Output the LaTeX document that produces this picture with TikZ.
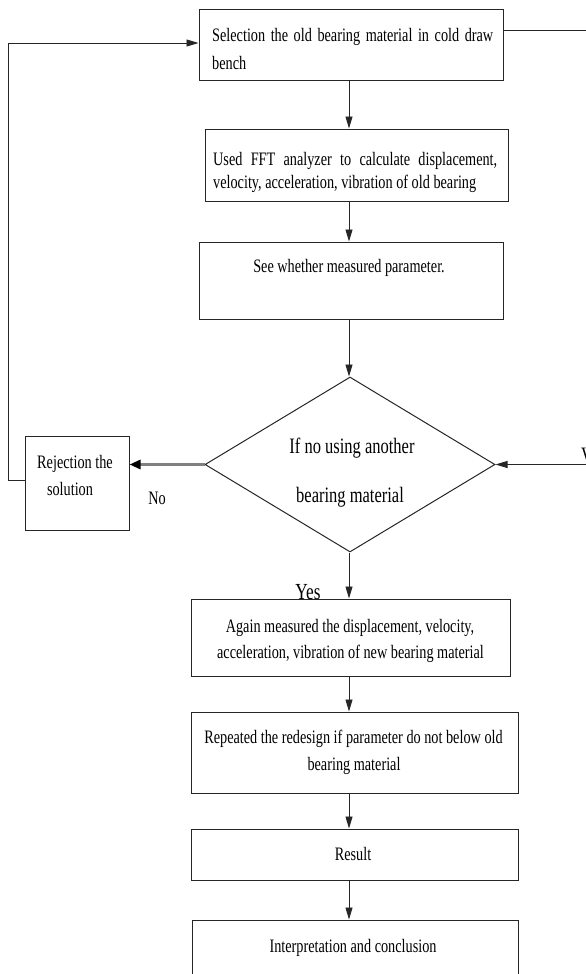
\documentclass[tikz,border=0pt]{standalone}
\usepackage{fontspec}
\setmainfont{Liberation Serif}[FakeStretch=0.75]
\usetikzlibrary{arrows.meta,shapes.geometric}
\newcommand\txtsz{\fontsize{19}{24}\selectfont}
\newcommand\bigtxtsz{\fontsize{22}{28}\selectfont}
\newcommand\yestxtsz{\fontsize{23}{28}\selectfont}
\begin{document}
\begin{tikzpicture}[x=1pt,y=-1pt,
  box/.style={draw=black!85, line width=1pt, rectangle, inner sep=0pt, anchor=center},
  lbl/.style={inner sep=0pt, anchor=base, font=\txtsz},
  lblw/.style={lbl, anchor=base west},
  arr/.style={draw=black!85, line width=0.9pt, -{Triangle[length=12pt,width=7pt]}},
  noarr/.style={draw=gray, line width=3pt, -{Triangle[length=11pt,width=9pt,color=black]}}]
\useasboundingbox (0,0) rectangle (586,974);
% boxes
\node[box, minimum width=304pt, minimum height=70pt] (b1) at (351,45) {};
\node[box, minimum width=303pt, minimum height=72pt] (b2) at (356.5,165) {};
\node[box, minimum width=304pt, minimum height=77pt] (b3) at (351,280.5) {};
\node[draw=black!85, line width=1pt, diamond, inner sep=0pt, minimum width=290pt, minimum height=175pt] (dm) at (350,464.5) {};
\node[box, minimum width=104pt, minimum height=94pt] (rej) at (77,483) {};
\node[box, minimum width=319pt, minimum height=77pt] (b4) at (350.5,637.5) {};
\node[box, minimum width=327pt, minimum height=81pt] (b5) at (354.5,752.5) {};
\node[box, minimum width=327pt, minimum height=51pt] (b6) at (354.5,854.5) {};
\node[box, minimum width=326pt, minimum height=70pt] (b7) at (355,955) {};
% helper coordinates
\coordinate (spine) at (349,0);
\coordinate (lx) at (8,0);
\coordinate (rx) at (600,0);
\coordinate (b1in) at ([yshift=2pt]b1.west);
\coordinate (rejout) at ([yshift=3pt]rej.west);
\coordinate (b1r) at ([yshift=14pt]b1.east);
% texts
\node[lblw] (t1a) at (212,42) {\makebox[281pt][s]{Selection the old bearing material in cold draw}};
\node[lblw] (t1b) at (212,70) {bench};
\node[lblw] (t2a) at (213,165) {\makebox[284pt][s]{Used FFT analyzer to calculate displacement,}};
\node[lblw] (t2b) at (213,188) {velocity, acceleration, vibration of old bearing};
\node[lbl] (t3) at (349,272) {See whether measured parameter.};
\node[lbl, font=\bigtxtsz] (td1) at (352,453) {If no using another};
\node[lbl, font=\bigtxtsz] (td2) at (350,502) {bearing material};
\node[lbl] (tr1) at (75,468) {Rejection the};
\node[lbl] (tr2) at (70,495) {solution};
\node[lbl] (tno) at (157,504) {No};
\node[lbl, font=\yestxtsz] (tyes) at (308,599) {Yes};
\node[lblw, font=\bigtxtsz] (tv) at (581,462) {V};
\node[lbl] (t4a) at (350,632) {Again measured the displacement, velocity,};
\node[lbl] (t4b) at (350.5,658) {acceleration, vibration of new bearing material};
\node[lbl] (t5a) at (353.5,743) {Repeated the redesign if parameter do not below old};
\node[lbl] (t5b) at (354,770) {bearing material};
\node[lbl] (t6) at (353,860) {Result};
\node[lbl] (t7) at (353,952) {Interpretation and conclusion};
% connectors
\draw[arr] (b1.south -| spine) -- (b2.north -| spine);
\draw[arr] (b2.south -| spine) -- (b3.north -| spine);
\draw[arr] (b3.south -| spine) -- (dm.north -| spine);
\draw[arr] (dm.south -| spine) -- (b4.north -| spine);
\draw[arr] (b4.south -| spine) -- (b5.north -| spine);
\draw[arr] (b5.south -| spine) -- (b6.north -| spine);
\draw[arr] (b6.south -| spine) -- (b7.north -| spine);
\draw[noarr] (dm.west) -- (rej.east |- dm.west);
\draw[arr] (rejout) -| (lx |- b1in) -- (b1in);
\draw[draw=black!85, line width=1pt] (b1r) -- (b1r -| rx);
\draw[arr] (dm.east -| rx) -- (dm.east);
\end{tikzpicture}
\end{document}
